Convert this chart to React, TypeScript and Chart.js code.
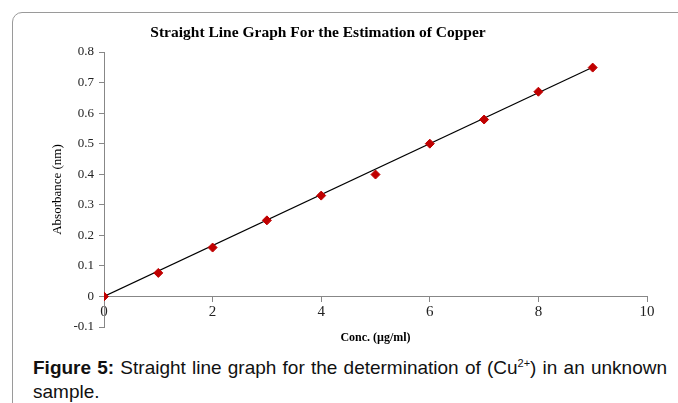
import React, { useEffect, useRef } from "react";
import { Chart, registerables } from "chart.js";

Chart.register(...registerables);

const concentrations = [0, 1, 2, 3, 4, 5, 6, 7, 8, 9];
const absorbances = [0, 0.077, 0.16, 0.249, 0.33, 0.399, 0.5, 0.579, 0.67, 0.749];
const trendX = [0, 9];
const trendY = [0, 0.75];
const xTicks = [0, 2, 4, 6, 8, 10];
const yTicks = [-0.1, 0, 0.1, 0.2, 0.3, 0.4, 0.5, 0.6, 0.7, 0.8];

const chartTitle = "Straight Line Graph For the Estimation of Copper";
const xTitle = "Conc. (\u00b5g/ml)";
const yTitle = "Absorbance (nm)";

const SERIF = "'Liberation Serif', 'Times New Roman', serif";
const AXIS_GRAY = "#878787";

const titlesPlugin = {
  id: "customTitles",
  afterDraw(chart: any) {
    const { ctx, chartArea } = chart;
    ctx.save();
    ctx.fillStyle = "#000";
    ctx.textAlign = "center";
    ctx.textBaseline = "middle";
    ctx.font = `bold 15.5px ${SERIF}`;
    ctx.fillText(chartTitle, 318, 33);
    ctx.font = `bold 12px ${SERIF}`;
    ctx.fillText(xTitle, (chartArea.left + chartArea.right) / 2, chartArea.bottom + 11);
    ctx.font = `13px ${SERIF}`;
    ctx.translate(58, (chartArea.top + chartArea.bottom) / 2);
    ctx.rotate(-Math.PI / 2);
    ctx.fillText(yTitle, 0, 0);
    ctx.restore();
  },
};

export default function App() {
  const canvasRef = useRef<HTMLCanvasElement | null>(null);

  useEffect(() => {
    if (!canvasRef.current) return;
    const chart = new Chart(canvasRef.current, {
      type: "scatter",
      data: {
        datasets: [
          {
            label: "Absorbance",
            data: concentrations.map((c, i) => ({ x: c, y: absorbances[i] })),
            pointStyle: "rectRot",
            pointRadius: 4.5,
            backgroundColor: "#C00000",
            borderColor: "#C00000",
            borderWidth: 1,
            showLine: false,
            order: 0,
          },
          {
            label: "Trend",
            data: trendX.map((x, i) => ({ x, y: trendY[i] })),
            showLine: true,
            borderColor: "#000",
            borderWidth: 1.2,
            pointRadius: 0,
            order: 1,
          },
        ],
      },
      options: {
        animation: false,
        responsive: false,
        layout: { padding: { left: 0, right: 31, top: 52, bottom: 23 } },
        plugins: {
          legend: { display: false },
          title: { display: false },
          tooltip: { enabled: false },
        },
        scales: {
          x: {
            type: "linear",
            min: 0,
            max: 10,
            position: { y: 0 } as any,
            afterBuildTicks: (scale: any) => {
              scale.ticks = xTicks.map((v) => ({ value: v }));
            },
            ticks: {
              color: "#222",
              font: { family: SERIF, size: 15 },
              padding: 2,
              maxRotation: 0,
              callback: (v: any) => String(v),
            },
            grid: {
              display: true,
              drawOnChartArea: false,
              drawTicks: true,
              tickLength: 5,
              color: AXIS_GRAY,
            },
            border: { display: true, color: AXIS_GRAY, width: 1 },
          },
          y: {
            type: "linear",
            min: -0.1,
            max: 0.8,
            position: "left",
            afterFit: (scale: any) => {
              scale.width = 104;
            },
            afterBuildTicks: (scale: any) => {
              scale.ticks = yTicks.map((v) => ({ value: v }));
            },
            ticks: {
              color: "#222",
              font: { family: SERIF, size: 13 },
              padding: 5,
              callback: (v: any) => {
                const r = Math.round(Number(v) * 10) / 10;
                return r === 0 ? "0" : String(r);
              },
            },
            grid: {
              display: true,
              drawOnChartArea: false,
              drawTicks: true,
              tickLength: 5,
              color: AXIS_GRAY,
            },
            border: { display: true, color: AXIS_GRAY, width: 1 },
          },
        },
      },
      plugins: [titlesPlugin],
    });
    return () => chart.destroy();
  }, []);

  return (
    <div
      style={{
        position: "absolute",
        left: 0,
        top: 0,
        width: 678,
        height: 403,
        overflow: "hidden",
        background: "#fff",
      }}
    >
      <div
        style={{
          position: "absolute",
          left: 12,
          top: 12,
          width: 720,
          height: 460,
          border: "1px solid #9a9a9a",
          borderRadius: 10,
          boxSizing: "border-box",
        }}
      />
      <canvas
        ref={canvasRef}
        width={678}
        height={350}
        style={{ position: "absolute", left: 0, top: 0, width: 678, height: 350 }}
      />
      <div
        style={{
          position: "absolute",
          left: 33,
          top: 356,
          width: 634,
          fontFamily: "'Liberation Sans', Arial, sans-serif",
          fontSize: 19,
          lineHeight: "24px",
          textAlign: "justify",
          color: "#111",
        }}
      >
        <b>Figure 5:</b> Straight line graph for the determination of (Cu
        <sup style={{ fontSize: 11, lineHeight: 0 }}>2+</sup>) in an unknown sample.
      </div>
    </div>
  );
}
